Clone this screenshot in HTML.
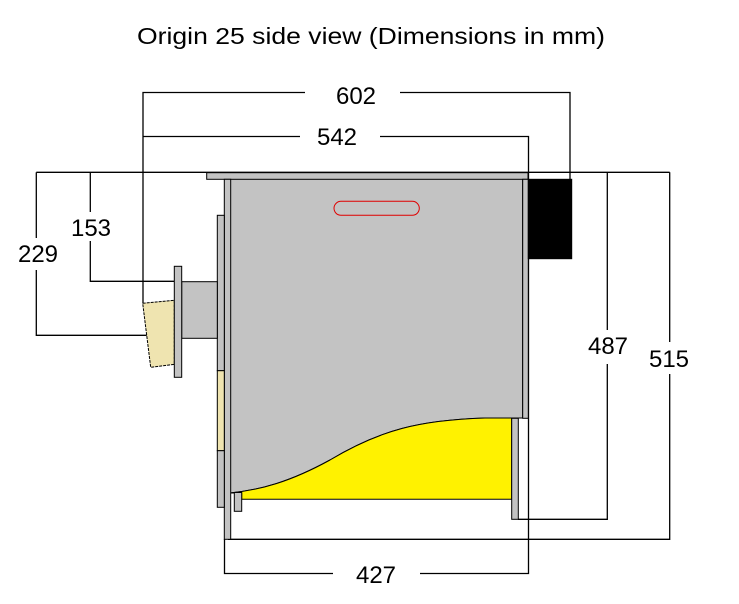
<!DOCTYPE html>
<html><head><style>html,body{margin:0;padding:0;background:#fff}svg{display:block}</style></head>
<body>
<svg width="739" height="604" xmlns="http://www.w3.org/2000/svg" font-family="Liberation Sans, sans-serif">
<text x="137" y="44" font-size="23" textLength="468" lengthAdjust="spacingAndGlyphs" fill="#000">Origin 25 side view (Dimensions in mm)</text>
<g stroke="#000" stroke-width="1.3" fill="none">
<polyline points="143,303 143,92.5 305,92.5"/>
<polyline points="400,92.5 570,92.5 570,179"/>
<polyline points="143,136.5 300,136.5"/>
<polyline points="380,136.5 528.5,136.5 528.5,573.5 420,573.5"/>
<polyline points="333,573.5 224.5,573.5 224.5,539"/>
<line x1="36.3" y1="172.3" x2="669.7" y2="172.3"/>
<polyline points="36.3,172.3 36.3,238"/>
<polyline points="36.3,270 36.3,335.3 147,335.3"/>
<polyline points="90.3,172.3 90.3,212"/>
<polyline points="90.3,241 90.3,281.3 182,281.3"/>
<line x1="607.3" y1="172.3" x2="607.3" y2="330"/>
<polyline points="607.3,364 607.3,519.3 518,519.3"/>
<line x1="669.7" y1="172.3" x2="669.7" y2="342"/>
<polyline points="669.7,374 669.7,539.3 228,539.3"/>
</g>
<g font-size="24" fill="#000" text-anchor="middle">
<text x="356" y="104">602</text>
<text x="337" y="145">542</text>
<text x="38" y="262">229</text>
<text x="91" y="236">153</text>
<text x="608" y="354">487</text>
<text x="669" y="367">515</text>
<text x="376" y="583">427</text>
</g>
<g stroke="#000" stroke-width="1">
<path d="M230,179 H522.7 V418 H485 C420,420 380,430 330,460 C290,482 260,490 230,493 Z" fill="#c3c3c3"/>
<path d="M230,493 C260,490 290,482 330,460 C380,430 420,420 485,418 H511.7 V499.3 H241.7 V493 Z" fill="#fff200"/>
<rect x="206.7" y="172.7" width="321.3" height="6.6" fill="#c3c3c3"/>
<rect x="224.3" y="179.3" width="6.4" height="360" fill="#c3c3c3"/>
<rect x="522.7" y="179.3" width="5.6" height="239" fill="#c3c3c3"/>
<rect x="528.3" y="179.3" width="43.4" height="79.4" fill="#000"/>
<rect x="217.3" y="215.3" width="7" height="155.4" fill="#c3c3c3"/>
<rect x="217.3" y="370.7" width="7" height="80" fill="#efe4b0"/>
<rect x="217.3" y="450.7" width="7" height="56.6" fill="#c3c3c3"/>
<rect x="181.7" y="281.7" width="35.6" height="56.6" fill="#c3c3c3"/>
<polygon points="142.7,303.3 174.3,300.3 174.3,364.3 150.7,367.3" fill="#efe4b0" stroke-dasharray="3,1"/>
<rect x="174.3" y="266.3" width="7.4" height="111" fill="#c3c3c3"/>
<rect x="234.3" y="492.5" width="7.4" height="18.8" fill="#c3c3c3"/>
<rect x="511.7" y="418.3" width="6.6" height="101" fill="#c3c3c3"/>
</g>
<rect x="334" y="201.3" width="85.3" height="14" rx="7" fill="none" stroke="#e00000" stroke-width="1"/>
</svg>
</body></html>
